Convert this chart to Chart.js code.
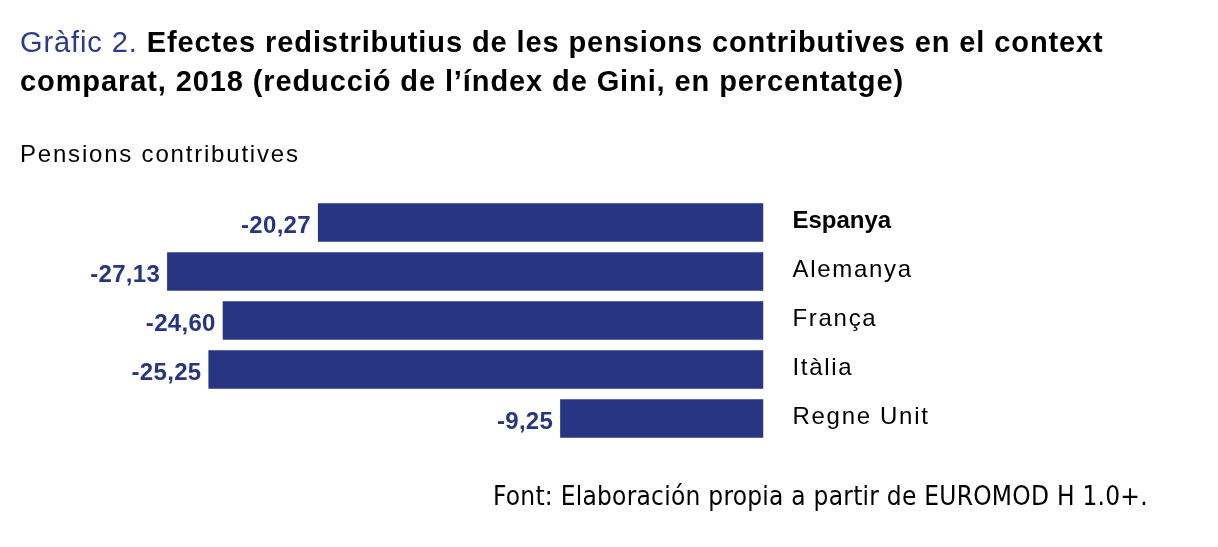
<!DOCTYPE html>
<html>
<head>
<meta charset="utf-8">
<script src="https://cdn.jsdelivr.net/npm/chart.js@4"></script>
<style>
  body { margin: 0; background: #fff; }
  #wrap { position: relative; width: 1218px; height: 547px; overflow: hidden; }
  canvas { position: absolute; left: 0; top: 0; }
  .txt { position: absolute; white-space: nowrap; font-family: "Liberation Sans", Arial, sans-serif; color: #000; }
  #title { left: 20px; top: 23px; font-size: 29px; line-height: 39px; font-weight: bold; letter-spacing: 0.9px; }
  #title .num { color: #2b3990; font-weight: normal; }
  #subtitle { left: 20px; top: 142px; font-size: 24px; line-height: 1; letter-spacing: 1.8px; }
  #source { left: 493px; top: 483px; font-size: 26px; line-height: 1; letter-spacing: 0.25px; font-family: "Liberation Sans Narrow", "DejaVu Sans Condensed", sans-serif; }
</style>
</head>
<body>
<div id="wrap">
  <canvas id="chart" width="1218" height="547"></canvas>
  <div id="title" class="txt"><span class="num">Gràfic 2.</span> Efectes redistributius de les pensions contributives en el context<br>comparat, 2018 (reducció de l’índex de Gini, en percentatge)</div>
  <div id="subtitle" class="txt">Pensions contributives</div>
  <div id="source" class="txt">Font: Elaboración propia a partir de EUROMOD H 1.0+.</div>
</div>
<script>
var countries = ["Espanya", "Alemanya", "França", "Itàlia", "Regne Unit"]
var gini_reduction = [-20.27, -27.13, -24.60, -25.25, -9.25]
var bold_country = "Espanya"

var blue = "#283583"

// value labels left of each bar, country names right of the zero line
var bar_labels = {
	id: "bar_labels",
	afterDatasetsDraw: function(chart) {
		var ctx = chart.ctx
		var meta = chart.getDatasetMeta(0)
		var xs = chart.scales.x
		var zero = xs.getPixelForValue(0)
		ctx.save()
		meta.data.forEach(function(bar, i) {
			var v = chart.data.datasets[0].data[i]
			ctx.fillStyle = blue
			ctx.font = "bold 24px 'Liberation Sans', Arial, sans-serif"
			ctx.letterSpacing = "0.3px"
			ctx.textAlign = "right"
			ctx.textBaseline = "alphabetic"
			ctx.fillText(v.toFixed(2).replace(".", ","), bar.x - 7, bar.y + 10.5)

			var name = chart.data.labels[i]
			ctx.fillStyle = "#000"
			ctx.textAlign = "left"
			if (name == bold_country) {
				ctx.font = "bold 24px 'Liberation Sans', Arial, sans-serif"
				ctx.letterSpacing = "0px"
			} else {
				ctx.font = "24px 'Liberation Sans', Arial, sans-serif"
				ctx.letterSpacing = "1.7px"
			}
			ctx.fillText(name, zero + 29, bar.y + 5)
		})
		ctx.restore()
	}
}

new Chart(document.getElementById("chart"), {
	type: "bar",
	data: {
		labels: countries,
		datasets: [{
			data: gini_reduction,
			backgroundColor: blue,
			borderWidth: 0,
			barPercentage: 0.786,
			categoryPercentage: 1,
		}]
	},
	options: {
		indexAxis: "y",
		responsive: false,
		animation: false,
		devicePixelRatio: 1,
		layout: { padding: { left: 104, right: 454.5, top: 198, bottom: 104 } },
		scales: {
			x: { display: false, min: -30, max: 0 },
			y: { display: false },
		},
		plugins: {
			legend: { display: false },
			tooltip: { enabled: false },
		}
	},
	plugins: [bar_labels]
})
</script>
</body>
</html>
